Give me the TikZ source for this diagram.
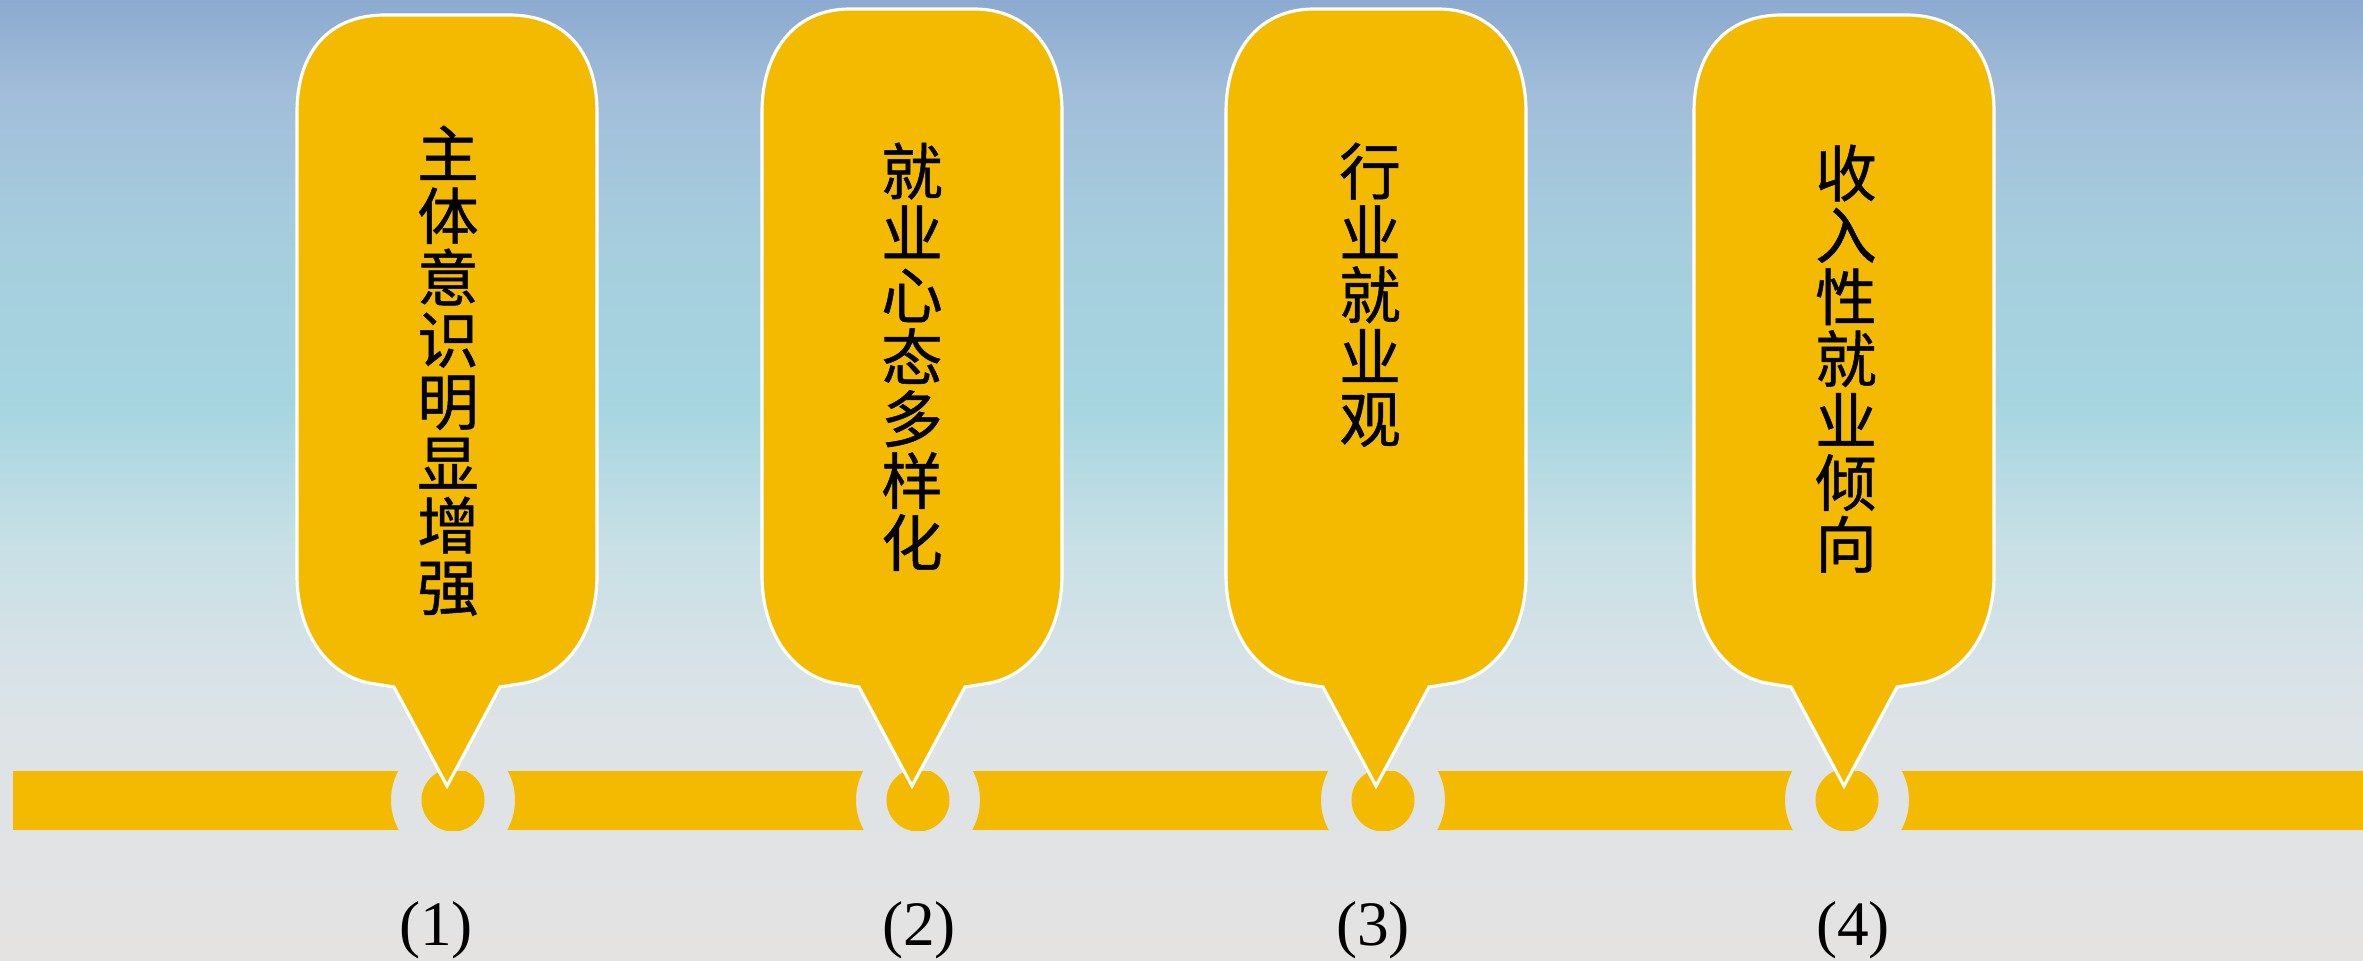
\documentclass[tikz,border=0pt]{standalone}
\usepackage{fontspec}
\newfontfamily\cjk[FakeBold=0.8]{Noto Sans CJK SC}
\newfontfamily\numfont{Liberation Serif}
\definecolor{gold}{RGB}{244,186,0}
\definecolor{bgA}{RGB}{229,227,226}
\definecolor{bgB}{RGB}{220,227,231}
\definecolor{bgC}{RGB}{200,224,230}
\definecolor{bgD}{RGB}{166,213,224}
\definecolor{bgE}{RGB}{166,206,222}
\definecolor{bgF}{RGB}{162,190,218}
\definecolor{bgG}{RGB}{140,170,208}
\pgfdeclareverticalshading{bgshade}{100bp}{color(0bp)=(bgA); color(25bp)=(bgA); color(38.5bp)=(bgB); color(46.5bp)=(bgC); color(54bp)=(bgD); color(62bp)=(bgE); color(70bp)=(bgF); color(75bp)=(bgG); color(100bp)=(bgG)}
\tikzset{
  bubble/.style={fill=gold, draw=white, line width=0.9pt, line join=miter},
  vtext/.style={anchor=north, inner sep=0pt, align=center, text=black,
    font={\cjk\fontsize{17.5pt}{17.6pt}\selectfont}},
  numlabel/.style={inner sep=0pt, text=black, font={\numfont\fontsize{18pt}{20pt}\selectfont}},
  barfill/.style={fill=gold}
}
\newcommand\bubblepath[2]{%
  \begin{scope}[shift={(#1,0)}]
    \path[bubble] (-150,112) .. controls (-150,52) and (-118,#2) .. (-62,#2) -- (62,#2)
      .. controls (118,#2) and (150,52) .. (150,112) -- (150,575)
      .. controls (150,635) and (118,675) .. (78,683) -- (53,687) -- (0,786) -- (-53,687) -- (-78,683)
      .. controls (-118,675) and (-150,635) .. (-150,575) -- cycle;
  \end{scope}}
\begin{document}
\begin{tikzpicture}[x=0.01cm,y=-0.01cm]
\useasboundingbox (0,0) rectangle (2363,961);
\shade[shading=bgshade] (0,0) rectangle (2363,961);
% junction points
\coordinate (j1) at (453,800);
\coordinate (j2) at (918,800);
\coordinate (j3) at (1383,800);
\coordinate (j4) at (1847,800);
% bar with gaps
\begin{scope}[even odd rule]
  \clip (0,0) rectangle (2363,961)
    (j1) circle (62) (j2) circle (62) (j3) circle (62) (j4) circle (62);
  \fill[barfill] (13,771) rectangle (2363,830);
\end{scope}
\begin{scope}
  \clip (0,771) rectangle (2363,830);
  \foreach \j in {j1,j2,j3,j4} \fill[barfill] (\j) circle (31.5);
\end{scope}
% bubbles
\bubblepath{447}{15}
\bubblepath{912}{9}
\bubblepath{1376}{9}
\bubblepath{1844}{15}
% texts
\node[vtext] (t1) at (448,125) {主\\体\\意\\识\\明\\显\\增\\强};
\node[vtext] (t2) at (912,142) {就\\业\\心\\态\\多\\样\\化};
\node[vtext] (t3) at (1370,142) {行\\业\\就\\业\\观};
\node[vtext] (t4) at (1846,144) {收\\入\\性\\就\\业\\倾\\向};
% labels
\node[numlabel] (n1) at (436,930) {(1)};
\node[numlabel] (n2) at (919,930) {(2)};
\node[numlabel] (n3) at (1373,930) {(3)};
\node[numlabel] (n4) at (1853,930) {(4)};
\end{tikzpicture}
\end{document}
